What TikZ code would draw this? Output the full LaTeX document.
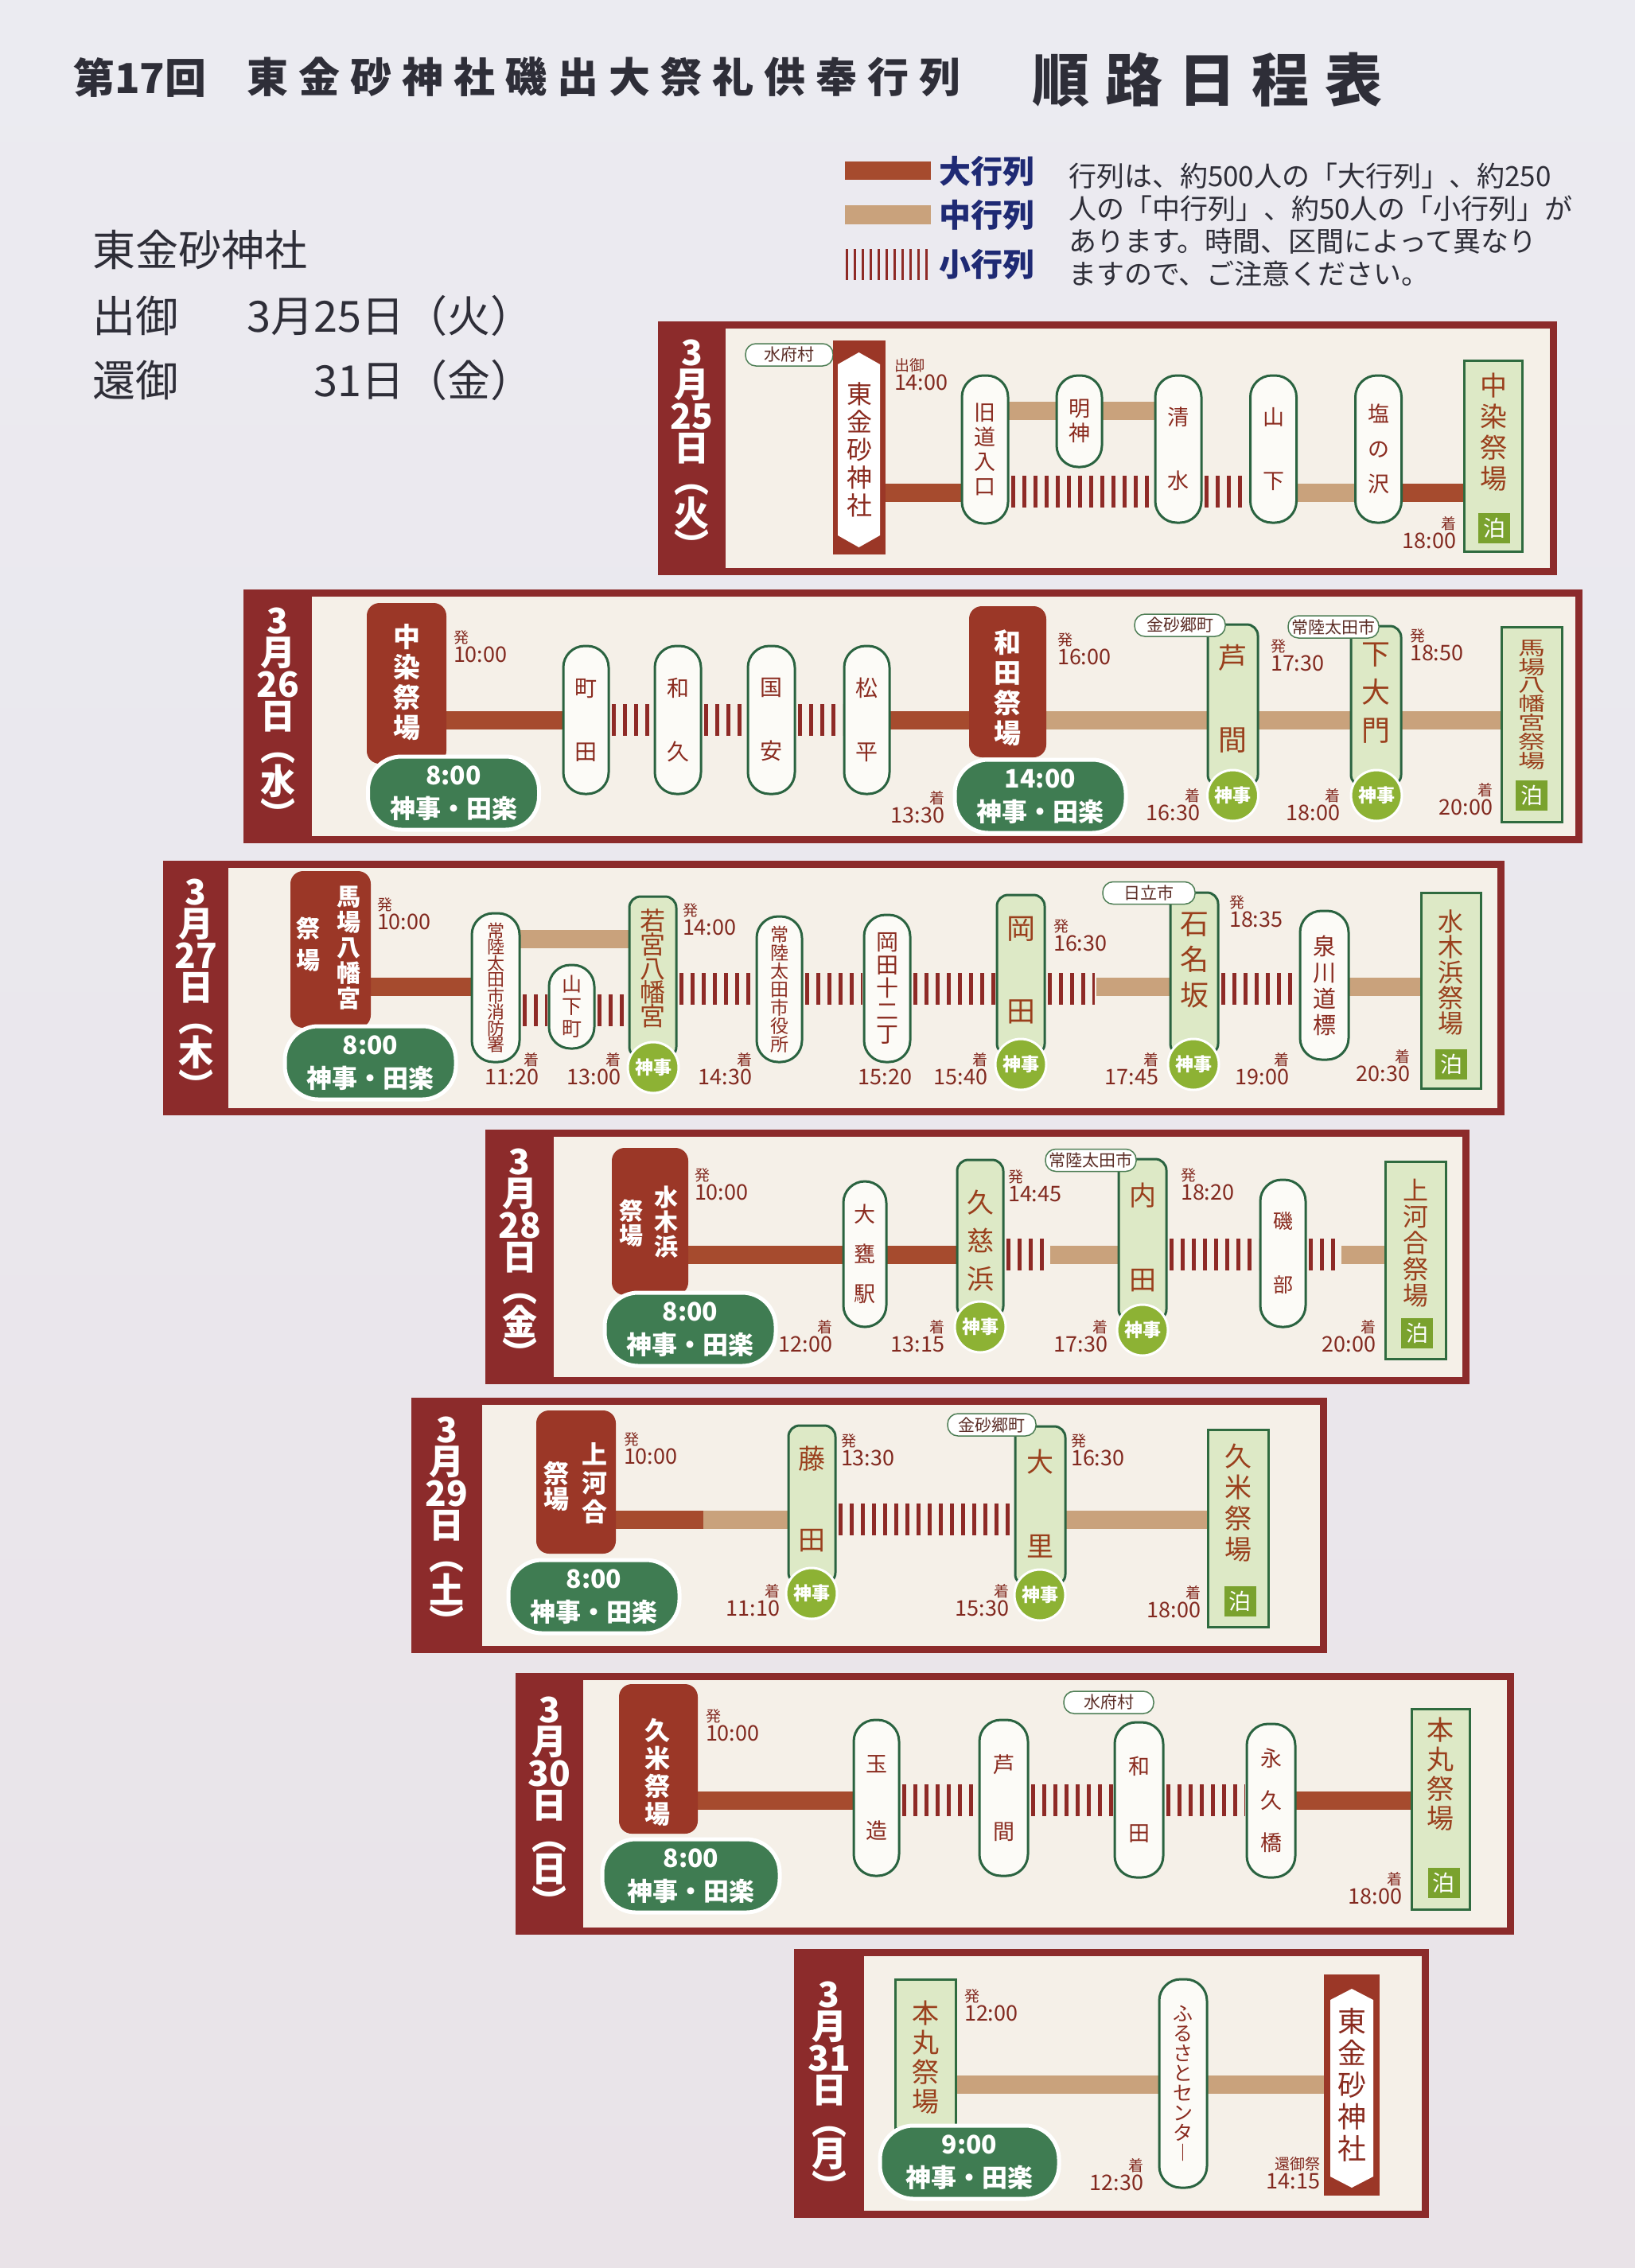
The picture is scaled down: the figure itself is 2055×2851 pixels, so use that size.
\documentclass[tikz,border=0pt]{standalone}
\usepackage{fontspec}
\setmainfont{Noto Sans CJK JP}
\definecolor{pagebg}{HTML}{EBEBF1}
\definecolor{pagebg2}{HTML}{E9E3E8}
\definecolor{framec}{HTML}{8C2B2B}
\definecolor{creamc}{HTML}{F5F0E8}
\definecolor{bigc}{HTML}{A64B2E}
\definecolor{medc}{HTML}{C9A27C}
\definecolor{stripec}{HTML}{8E2A26}
\definecolor{startred}{HTML}{9B3727}
\definecolor{pillgreen}{HTML}{3F7C52}
\definecolor{shinjic}{HTML}{8DB234}
\definecolor{endfill}{HTML}{DDE9C6}
\definecolor{endborder}{HTML}{2F6B3F}
\definecolor{stgreen}{HTML}{2A6340}
\definecolor{stfill}{HTML}{FCFBF7}
\definecolor{tomaric}{HTML}{7AA22E}
\definecolor{txtred}{HTML}{8A2B1F}
\definecolor{gtxt}{HTML}{9A3F1C}
\definecolor{timec}{HTML}{82291F}
\definecolor{townc}{HTML}{4E7E55}
\definecolor{towntxt}{HTML}{5B2D26}
\definecolor{navy}{HTML}{1F2A74}
\definecolor{ink}{HTML}{2E2E38}
\pgfdeclarelayer{panel}
\pgfdeclarelayer{lines}
\pgfsetlayers{panel,lines,main}
\tikzset{
  every node/.style={inner sep=0pt, outer sep=0pt},
  stn/.style={draw=stgreen, line width=3pt, fill=stfill, rounded corners=27pt, align=center, text=txtred, font=\fontsize{27}{31}\selectfont},
  gstn/.style={draw=stgreen, line width=3pt, fill=endfill, rounded corners=14pt},
  gtext/.style={align=center, text=gtxt, font=\fontsize{36}{40}\selectfont},
  shinji/.style={circle, fill=shinjic, draw=white, line width=3pt, minimum size=64pt, text=white, font=\bfseries\fontsize{23}{23}\selectfont},
  endbox/.style={draw=endborder, line width=3pt, fill=endfill},
  endtxt/.style={align=center, text=gtxt, font=\fontsize{34}{39}\selectfont},
  tomari/.style={fill=tomaric, minimum width=40pt, minimum height=38pt, text=white, font=\fontsize{28}{28}\selectfont},
  startbox/.style={fill=startred, rounded corners=16pt},
  sttxt/.style={align=center, text=white, font=\bfseries\fontsize{34}{38}\selectfont},
  ceremony/.style={fill=pillgreen, draw=white, line width=5pt, rounded corners=42pt, minimum width=215pt, minimum height=92pt, align=center, text=white, font=\bfseries\fontsize{32}{42}\selectfont},
  town/.style={fill=white, draw=townc, line width=1.5pt, rounded corners=13pt, minimum height=28pt, minimum width=112pt, text=towntxt, font=\fontsize{21}{21}\selectfont},
  shrinebox/.style={fill=startred},
  shrtxt/.style={align=center, text=txtred, font=\fontsize{32}{35}\selectfont},
  datelab/.style={align=center, text=white, font=\bfseries\fontsize{44}{40}\selectfont},
  deplab/.style={anchor=north west, align=left, text=timec, font=\fontsize{27}{24}\selectfont},
  arrlab/.style={anchor=north east, align=right, text=timec, font=\fontsize{27}{24}\selectfont},
  bigline/.style={draw=bigc, line width=23pt},
  medline/.style={draw=medc, line width=23pt},
  smallline/.style={draw=stripec, line width=40pt, dash pattern=on 5pt off 9pt, shorten <=4pt, shorten >=2pt},
}
\newcommand\DepL[4][発]{\node[deplab] (#2) at (#3) {{\fontsize{19}{19}\selectfont #1}\\#4};}
\newcommand\ArrL[4][着]{\node[arrlab] (#2) at (#3) {{\fontsize{19}{19}\selectfont #1}\\#4};}
\newcommand\DayPanel[5]{\begin{pgfonlayer}{panel}\fill[framec] (#1,#3) rectangle (#2,#4);\fill[creamc] (#5,#3+9) rectangle (#2-9,#4-9);\end{pgfonlayer}}
\begin{document}
\begin{tikzpicture}[x=1pt,y=-1pt]
\useasboundingbox (0,0) rectangle (2055,2851);
\begin{pgfonlayer}{panel}
\shade[top color=pagebg, bottom color=pagebg2] (0,0) rectangle (2055,2851);
\end{pgfonlayer}
% ---------- title ----------
\node[anchor=west, text=ink, font=\bfseries\fontsize{52}{52}\selectfont] (t1) at (92,97) {第17回};
\node[anchor=west, text=ink, font=\bfseries\fontsize{52}{52}\selectfont\addfontfeature{LetterSpace=25}] (t2) at (310,97) {東金砂神社磯出大祭礼供奉行列};
\node[anchor=west, text=ink, font=\bfseries\fontsize{72}{72}\selectfont\addfontfeature{LetterSpace=28}] (t3) at (1297,100) {順路日程表};
% ---------- left info ----------
\node[anchor=west, text=ink, font=\fontsize{54}{54}\selectfont] (i1) at (116,314) {東金砂神社};
\node[anchor=west, text=ink, font=\fontsize{54}{54}\selectfont] (i2) at (116,397) {出御};
\node[anchor=east, text=ink, font=\fontsize{54}{54}\selectfont] (i3) at (670,397) {3月25日（火）};
\node[anchor=west, text=ink, font=\fontsize{54}{54}\selectfont] (i4) at (116,478) {還御};
\node[anchor=east, text=ink, font=\fontsize{54}{54}\selectfont] (i5) at (670,478) {31日（金）};
% ---------- legend ----------
\fill[bigc] (1062,203) rectangle (1170,226);
\fill[medc] (1062,258) rectangle (1170,282);
\draw[stripec, line width=39pt, dash pattern=on 3pt off 7pt] (1063,332.5) -- (1172,332.5);
\node[anchor=west, text=navy, font=\bfseries\fontsize{40}{40}\selectfont] (lg1) at (1180,215) {大行列};
\node[anchor=west, text=navy, font=\bfseries\fontsize{40}{40}\selectfont] (lg2) at (1180,270) {中行列};
\node[anchor=west, text=navy, font=\bfseries\fontsize{40}{40}\selectfont] (lg3) at (1180,332) {小行列};
\node[anchor=north west, align=left, text=ink, font=\fontsize{35}{41}\selectfont] (desc) at (1343,205) {行列は、約500人の「大行列」、約250\\人の「中行列」、約50人の「小行列」が\\あります。時間、区間によって異なり\\ますので、ご注意ください。};
% ---------- panels ----------
\DayPanel{827}{1957}{404}{723}{912}
\DayPanel{306}{1989}{741}{1060}{392}
\DayPanel{205}{1891}{1082}{1402}{287}
\DayPanel{610}{1847}{1420}{1740}{696}
\DayPanel{517}{1668}{1757}{2078}{606}
\DayPanel{648}{1903}{2103}{2432}{733}
\DayPanel{998}{1796}{2450}{2788}{1086}
% ---------- day 1 ----------
\node[datelab] (d1d) at (869.5,565) {3\\月\\25\\日\\︵\\火\\︶};
\node[town, minimum width=110] (d1t) at (992,446) {水府村};
\node[shrinebox, minimum width=66, minimum height=269] (d1s) at (1080,562.5) {};
\fill[white] (1053,458) -- (1079.5,443) -- (1106,458) -- (1106,673) -- (1079.5,688) -- (1053,673) -- cycle;
\node[shrtxt] (d1st) at (1080,565) {東\\金\\砂\\神\\社};
\node[stn, minimum width=58, minimum height=186] (d1n1) at (1238,565) {旧\\道\\入\\口};
\node[stn, minimum width=57, minimum height=115] (d1n2) at (1356.5,529.5) {明\\神};
\node[stn, minimum width=58, minimum height=185] (d1n3) at (1481,564.5) {清\\[49pt]水};
\node[stn, minimum width=58, minimum height=185] (d1n4) at (1600.5,564.5) {山\\[49pt]下};
\node[stn, minimum width=58, minimum height=185] (d1n5) at (1732.5,564.5) {塩\\[13pt]の\\[13pt]沢};
\node[endbox, minimum width=73, minimum height=240] (d1e) at (1876.5,573) {};
\node[endtxt] (d1et) at (1877,543) {中\\染\\祭\\場};
\node[tomari] (d1eh) at (1878,663.5) {泊};
\DepL[出御]{d1a}{1124,451}{14:00}
\ArrL{d1b}{1830,649}{18:00}
% ---------- day 2 ----------
\node[datelab] (d2d) at (349,902) {3\\月\\26\\日\\︵\\水\\︶};
\node[startbox, minimum width=100, minimum height=202] (d2s) at (511,859) {};
\node[sttxt] (d2st) at (511,858) {中\\染\\祭\\場};
\node[ceremony] (d2p1) at (570,997) {8:00\\神事・田楽};
\node[stn, minimum width=57, minimum height=186, font=\fontsize{28}{80}\selectfont] (d2n1) at (736.5,905) {町\\田};
\node[stn, minimum width=58, minimum height=186, font=\fontsize{28}{80}\selectfont] (d2n2) at (852,905) {和\\久};
\node[stn, minimum width=59, minimum height=186, font=\fontsize{28}{80}\selectfont] (d2n3) at (969.5,905) {国\\安};
\node[stn, minimum width=57, minimum height=186, font=\fontsize{28}{80}\selectfont] (d2n4) at (1089.5,905) {松\\平};
\node[startbox, minimum width=97, minimum height=190] (d2s2) at (1266.5,857) {};
\node[sttxt] (d2s2t) at (1266.5,865) {和\\田\\祭\\場};
\node[ceremony] (d2p2) at (1307.5,1001) {14:00\\神事・田楽};
\node[gstn, minimum width=63, minimum height=203] (d2n5) at (1549.5,886.5) {};
\node[gtext] (d2n5t) at (1549.5,878.5) {芦\\[63pt]間};
\node[shinji] (d2n5c) at (1549.5,1000) {神事};
\node[town, minimum width=114] (d2t1) at (1483,786) {金砂郷町};
\node[gstn, minimum width=63, minimum height=201] (d2n6) at (1729.5,887.5) {};
\node[gtext, font=\fontsize{36}{48}\selectfont] (d2n6t) at (1729.5,871.5) {下\\大\\門};
\node[shinji] (d2n6c) at (1730,1000) {神事};
\node[town, minimum width=114] (d2t2) at (1676,788) {常陸太田市};
\node[endbox, minimum width=76, minimum height=245] (d2e) at (1925,910.5) {};
\node[endtxt] (d2et) at (1925,886) {\scalebox{1}[0.7]{\shortstack{馬\\場\\八\\幡\\宮\\祭\\場}}};
\node[tomari] (d2eh) at (1925,1000) {泊};
\DepL{d2a}{570,793}{10:00}
\ArrL{d2b}{1187,994}{13:30}
\DepL{d2c}{1329,796}{16:00}
\ArrL{d2f1}{1508,991}{16:30}
\DepL{d2e1}{1597,804}{17:30}
\ArrL{d2f}{1684,991}{18:00}
\DepL{d2g}{1772,791}{18:50}
\ArrL{d2h}{1876,984}{20:00}
% ---------- day 3 ----------
\node[datelab] (d3d) at (246,1243) {3\\月\\27\\日\\︵\\木\\︶};
\node[startbox, minimum width=101, minimum height=197] (d3s) at (415.5,1193.5) {};
\node[sttxt, font=\bfseries\fontsize{30}{32}\selectfont] (d3st1) at (438,1192) {馬\\場\\八\\幡\\宮};
\node[sttxt, font=\bfseries\fontsize{30}{40}\selectfont] (d3st2) at (387,1187) {祭\\場};
\node[ceremony] (d3p) at (465.5,1336) {8:00\\神事・田楽};
\node[stn, minimum width=60, minimum height=187, font=\fontsize{22}{20.5}\selectfont] (d3n1) at (623,1241.5) {常\\陸\\太\\田\\市\\消\\防\\署};
\node[stn, minimum width=57, minimum height=105, font=\fontsize{25}{28}\selectfont] (d3n2) at (718.5,1265.5) {山\\下\\町};
\node[gstn, minimum width=59, minimum height=203] (d3n3) at (820.5,1228.5) {};
\node[gtext, font=\fontsize{32}{30}\selectfont] (d3n3t) at (820.5,1217) {若\\宮\\八\\幡\\宮};
\node[shinji] (d3n3c) at (821,1342) {神事};
\node[stn, minimum width=57, minimum height=183, font=\fontsize{23}{23}\selectfont] (d3n4) at (979.5,1243.5) {常\\陸\\太\\田\\市\\役\\所};
\node[stn, minimum width=58, minimum height=185, font=\fontsize{28}{29}\selectfont] (d3n5) at (1115,1242.5) {岡\\田\\十\\二\\丁};
\node[gstn, minimum width=60, minimum height=201] (d3n6) at (1283,1225.5) {};
\node[gtext] (d3n6t) at (1283,1220) {岡\\[64pt]田};
\node[shinji] (d3n6c) at (1283,1338) {神事};
\node[gstn, minimum width=60, minimum height=204] (d3n7) at (1501,1224) {};
\node[gtext, font=\fontsize{36}{45}\selectfont] (d3n7t) at (1501,1207) {石\\名\\坂};
\node[shinji] (d3n7c) at (1500,1338) {神事};
\node[town, minimum width=116] (d3t) at (1444,1122.5) {日立市};
\node[stn, minimum width=61, minimum height=187, font=\fontsize{29}{33}\selectfont] (d3n8) at (1664.5,1238.5) {泉\\川\\道\\標};
\node[endbox, minimum width=75, minimum height=246] (d3e) at (1823.5,1245) {};
\node[endtxt, font=\fontsize{32}{32}\selectfont] (d3et) at (1823.5,1222) {水\\木\\浜\\祭\\場};
\node[tomari] (d3eh) at (1824,1337.5) {泊};
\DepL{d3a}{474,1129}{10:00}
\ArrL{d3b}{677,1323}{11:20}
\ArrL{d3c}{780,1323}{13:00}
\DepL{d3x}{858,1136}{14:00}
\ArrL{d3y}{945,1323}{14:30}
\ArrL[\phantom{着}]{d3f}{1146,1323}{15:20}
\ArrL{d3g}{1241,1323}{15:40}
\DepL{d3h}{1324,1156}{16:30}
\ArrL{d3i}{1456,1323}{17:45}
\DepL{d3j}{1545,1126}{18:35}
\ArrL{d3k}{1620,1323}{19:00}
\ArrL{d3l}{1772,1319}{20:30}
% ---------- day 4 ----------
\node[datelab] (d4d) at (653,1581) {3\\月\\28\\日\\︵\\金\\︶};
\node[startbox, minimum width=96, minimum height=185] (d4s) at (817,1535.5) {};
\node[sttxt, font=\bfseries\fontsize{30}{31}\selectfont] (d4st1) at (837,1536) {水\\木\\浜};
\node[sttxt, font=\bfseries\fontsize{30}{31}\selectfont] (d4st2) at (793,1538) {祭\\場};
\node[ceremony] (d4p) at (867.5,1671) {8:00\\神事・田楽};
\node[stn, minimum width=54, minimum height=183, font=\fontsize{27}{50}\selectfont] (d4n1) at (1087,1576.5) {大\\甕\\駅};
\node[gstn, minimum width=58, minimum height=198] (d4n2) at (1232,1557) {};
\node[gtext, font=\fontsize{34}{48}\selectfont] (d4n2t) at (1232,1560) {久\\慈\\浜};
\node[shinji] (d4n2c) at (1232,1668) {神事};
\node[gstn, minimum width=60, minimum height=203] (d4n3) at (1436,1558.5) {};
\node[gtext, font=\fontsize{34}{40}\selectfont] (d4n3t) at (1436,1555) {内\\[66pt]田};
\node[shinji] (d4n3c) at (1436,1672) {神事};
\node[town, minimum width=114] (d4t) at (1371,1458.5) {常陸太田市};
\node[stn, minimum width=57, minimum height=185, font=\fontsize{25}{80}\selectfont] (d4n4) at (1612.5,1575.5) {磯\\部};
\node[endbox, minimum width=76, minimum height=248] (d4e) at (1779,1584) {};
\node[endtxt, font=\fontsize{32}{33}\selectfont] (d4et) at (1779,1563) {上\\河\\合\\祭\\場};
\node[tomari] (d4eh) at (1781,1676) {泊};
\DepL{d4a}{873,1469}{10:00}
\ArrL{d4b}{1046,1659}{12:00}
\ArrL{d4c}{1187,1659}{13:15}
\DepL{d4x}{1267,1471}{14:45}
\ArrL{d4y}{1392,1659}{17:30}
\DepL{d4f}{1484,1469}{18:20}
\ArrL{d4g}{1729,1659}{20:00}
% ---------- day 5 ----------
\node[datelab] (d5d) at (561.5,1918) {3\\月\\29\\日\\︵\\土\\︶};
\node[startbox, minimum width=100, minimum height=180] (d5s) at (724,1863) {};
\node[sttxt, font=\bfseries\fontsize{32}{36}\selectfont] (d5st1) at (747,1865) {上\\河\\合};
\node[sttxt, font=\bfseries\fontsize{32}{32}\selectfont] (d5st2) at (699,1868) {祭\\場};
\node[ceremony] (d5p) at (746.5,2007) {8:00\\神事・田楽};
\node[gstn, minimum width=59, minimum height=199] (d5n1) at (1020.5,1891.5) {};
\node[gtext, font=\fontsize{34}{40}\selectfont] (d5n1t) at (1020.5,1884) {藤\\[62pt]田};
\node[shinji] (d5n1c) at (1020,2003) {神事};
\node[gstn, minimum width=63, minimum height=200] (d5n2) at (1307.5,1893) {};
\node[gtext, font=\fontsize{34}{40}\selectfont] (d5n2t) at (1307.5,1890) {大\\[66pt]里};
\node[shinji] (d5n2c) at (1307,2005) {神事};
\node[town, minimum width=111] (d5t) at (1246.5,1791) {金砂郷町};
\node[endbox, minimum width=76, minimum height=248] (d5e) at (1556,1921) {};
\node[endtxt, font=\fontsize{34}{39}\selectfont] (d5et) at (1556,1889) {久\\米\\祭\\場};
\node[tomari] (d5eh) at (1558.5,2012.5) {泊};
\DepL{d5a}{784,1801}{10:00}
\ArrL{d5b}{980,1991}{11:10}
\DepL{d5c}{1057,1803}{13:30}
\ArrL{d5x}{1268,1991}{15:30}
\DepL{d5e1}{1346,1803}{16:30}
\ArrL{d5f}{1509,1993}{18:00}
% ---------- day 6 ----------
\node[datelab] (d6d) at (690.5,2270) {3\\月\\30\\日\\︵\\日\\︶};
\node[startbox, minimum width=99, minimum height=188] (d6s) at (827.5,2211) {};
\node[sttxt, font=\bfseries\fontsize{32}{35}\selectfont] (d6st) at (826,2228) {久\\米\\祭\\場};
\node[ceremony, minimum width=223] (d6p) at (868.5,2358) {8:00\\神事・田楽};
\node[stn, minimum width=57, minimum height=196, font=\fontsize{27}{84}\selectfont] (d6n1) at (1101.5,2260) {玉\\造};
\node[stn, minimum width=61, minimum height=196, font=\fontsize{27}{84}\selectfont] (d6n2) at (1261.5,2260) {芦\\間};
\node[stn, minimum width=61, minimum height=195, font=\fontsize{27}{84}\selectfont] (d6n3) at (1431.5,2262.5) {和\\田};
\node[stn, minimum width=61, minimum height=193, font=\fontsize{27}{53}\selectfont] (d6n4) at (1597.5,2263.5) {永\\久\\橋};
\node[town, minimum width=113] (d6t) at (1393.5,2140) {水府村};
\node[endbox, minimum width=73, minimum height=252] (d6e) at (1810.5,2274) {};
\node[endtxt, font=\fontsize{34}{37}\selectfont] (d6et) at (1810.5,2230) {本\\丸\\祭\\場};
\node[tomari] (d6eh) at (1814.5,2367) {泊};
\DepL{d6a}{887,2149}{10:00}
\ArrL{d6b}{1762,2353}{18:00}
% ---------- day 7 ----------
\node[datelab] (d7d) at (1042,2628) {3\\月\\31\\日\\︵\\月\\︶};
\node[endbox, minimum width=76, minimum height=187] (d7s) at (1163,2581.5) {};
\node[endtxt, font=\fontsize{34}{37}\selectfont] (d7st) at (1163,2586) {本\\丸\\祭\\場};
\node[ceremony, minimum width=225] (d7p) at (1218.5,2718) {9:00\\神事・田楽};
\node[stn, minimum width=60, minimum height=262, font=\fontsize{25}{25}\selectfont] (d7n1) at (1487,2619) {ふ\\る\\さ\\と\\セ\\ン\\タ\\︱};
\node[shrinebox, minimum width=70, minimum height=278] (d7e) at (1699,2621) {};
\fill[white] (1672,2514) -- (1699,2500) -- (1726,2514) -- (1726,2736) -- (1699,2750) -- (1672,2736) -- cycle;
\node[shrtxt, font=\fontsize{36}{40}\selectfont] (d7et) at (1699,2621) {東\\金\\砂\\神\\社};
\DepL{d7a}{1212,2501}{12:00}
\ArrL{d7b}{1437,2713}{12:30}
\ArrL[還御祭]{d7c}{1659,2711}{14:15}
% ---------- routes ----------
\coordinate (y1) at (0,619);
\coordinate (y1u) at (0,516);
\coordinate (y1s) at (0,617.5);
\coordinate (y2) at (0,905);
\coordinate (y3) at (0,1240);
\coordinate (y3u) at (0,1180);
\coordinate (y3l) at (0,1270);
\coordinate (y3s) at (0,1243);
\coordinate (d3m) at (1378,1243);
\coordinate (y4) at (0,1577);
\coordinate (d4m1) at (1320,1577);
\coordinate (d4m2) at (1686,1577);
\coordinate (y5) at (0,1910);
\coordinate (d5m) at (884,1910);
\coordinate (y6) at (0,2263);
\coordinate (y7) at (0,2620);
\begin{pgfonlayer}{lines}
\draw[bigline] (d1s.east |- y1) -- (d1n1.west |- y1);
\draw[medline] (d1n1.east |- y1u) -- (d1n3.west |- y1u);
\draw[smallline] (d1n1.east |- y1s) -- (d1n3.west |- y1s);
\draw[smallline] (d1n3.east |- y1s) -- (d1n4.west |- y1s);
\draw[medline] (d1n4.east |- y1) -- (d1n5.west |- y1);
\draw[bigline] (d1n5.east |- y1) -- (d1e.west |- y1);
\draw[bigline] (d2s.east |- y2) -- (d2n1.west |- y2);
\draw[smallline] (d2n1.east |- y2) -- (d2n2.west |- y2);
\draw[smallline] (d2n2.east |- y2) -- (d2n3.west |- y2);
\draw[smallline] (d2n3.east |- y2) -- (d2n4.west |- y2);
\draw[bigline] (d2n4.east |- y2) -- (d2s2.west |- y2);
\draw[medline] (d2s2.east |- y2) -- (d2e.west |- y2);
\draw[bigline] (d3s.east |- y3) -- (d3n1.west |- y3);
\draw[medline] (d3n1.east |- y3u) -- (d3n3.west |- y3u);
\draw[smallline] (d3n1.east |- y3l) -- (d3n2.west |- y3l);
\draw[smallline] (d3n2.east |- y3l) -- (d3n3.west |- y3l);
\draw[smallline] (d3n3.east |- y3s) -- (d3n4.west |- y3s);
\draw[smallline] (d3n4.east |- y3s) -- (d3n5.west |- y3s);
\draw[smallline] (d3n5.east |- y3s) -- (d3n6.west |- y3s);
\draw[smallline] (d3n6.east |- y3s) -- (d3m);
\draw[medline] (d3m |- y3) -- (d3n7.west |- y3);
\draw[smallline] (d3n7.east |- y3s) -- (d3n8.west |- y3s);
\draw[medline] (d3n8.east |- y3) -- (d3e.west |- y3);
\draw[bigline] (d4s.east |- y4) -- (d4n2.west |- y4);
\draw[smallline] (d4n2.east |- y4) -- (d4m1);
\draw[medline] (d4m1) -- (d4n3.west |- y4);
\draw[smallline] (d4n3.east |- y4) -- (d4n4.west |- y4);
\draw[smallline] (d4n4.east |- y4) -- (d4m2);
\draw[medline] (d4m2) -- (d4e.west |- y4);
\draw[bigline] (d5s.east |- y5) -- (d5m);
\draw[medline] (d5m) -- (d5n1.west |- y5);
\draw[smallline] (d5n1.east |- y5) -- (d5n2.west |- y5);
\draw[medline] (d5n2.east |- y5) -- (d5e.west |- y5);
\draw[bigline] (d6s.east |- y6) -- (d6n1.west |- y6);
\draw[smallline] (d6n1.east |- y6) -- (d6n2.west |- y6);
\draw[smallline] (d6n2.east |- y6) -- (d6n3.west |- y6);
\draw[smallline] (d6n3.east |- y6) -- (d6n4.west |- y6);
\draw[bigline] (d6n4.east |- y6) -- (d6e.west |- y6);
\draw[medline] (d7s.east |- y7) -- (d7e.west |- y7);
\end{pgfonlayer}
\end{tikzpicture}
\end{document}
